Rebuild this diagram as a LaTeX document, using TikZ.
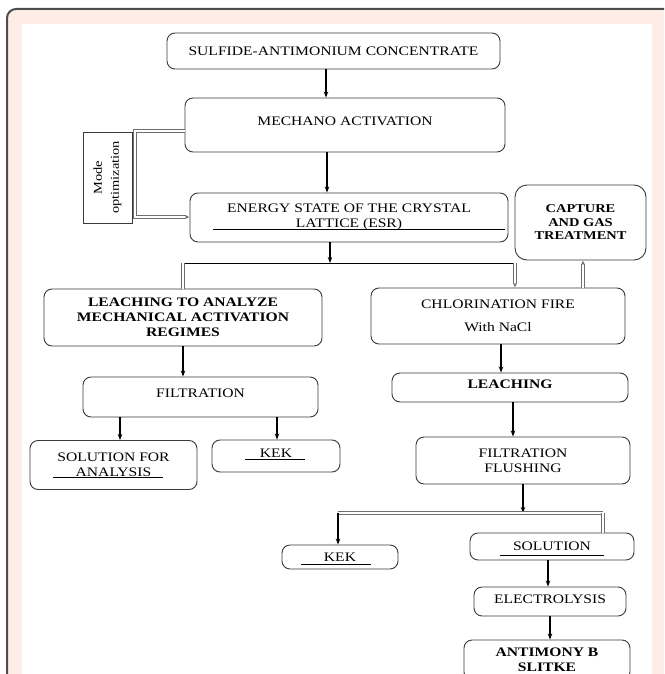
\documentclass[tikz,border=0pt]{standalone}
\usepackage{fontspec}
\setmainfont{Liberation Serif}[FakeStretch=1.2]
\usetikzlibrary{arrows.meta,calc}
\definecolor{marco}{HTML}{4D4D4D}
\definecolor{durazno}{HTML}{FDEDE6}
\definecolor{borde}{HTML}{3A3A3A}
\definecolor{doblec}{HTML}{6E6E6E}

\begin{document}
\begin{tikzpicture}[x=1pt,y=-1pt,
    caja/.style={draw=borde,line width=0.9pt,rounded corners=8pt,align=center,
      font=\fontsize{13}{15}\selectfont,inner sep=2pt},
    flecha/.style={draw=black,line width=1.1pt,-{Stealth[length=6pt,width=4.5pt]}},
    doble/.style={draw=doblec,line width=1pt,double=white,double distance=1.8pt},
    punta/.style={-{Latex[length=4pt,width=4pt]}},
    subr/.style={draw=black,line width=0.8pt}]
  \useasboundingbox (0,0) rectangle (664,674);
  \clip (0,0) rectangle (664,674);
  % marco de fondo
  \draw[marco,line width=2pt,rounded corners=9pt,fill=durazno] (7,9) rectangle (700,720);
  \fill[white] (22,24) rectangle (652,720);

  % cajas
  \node[caja,minimum width=333pt,minimum height=36pt] (sulf) at (333.5,51) {SULFIDE-ANTIMONIUM CONCENTRATE};
  \node[caja,minimum width=320pt,minimum height=54pt,text depth=8pt] (mech) at (345,125) {MECHANO ACTIVATION};
  \node[draw=borde,line width=0.9pt,rotate=90,minimum width=91pt,minimum height=49pt,
        align=center,inner sep=1pt,font=\fontsize{12}{17}\selectfont] (modo) at (107.5,177.5) {Mode\\optimization};
  \node[caja,minimum width=318pt,minimum height=49pt] (esr) at (349,217.5) {ENERGY STATE OF THE CRYSTAL\\LATTICE (ESR)};
  \node[caja,rounded corners=12pt,minimum width=131pt,minimum height=75pt,
        font=\fontsize{12}{13.5}\selectfont\bfseries] (capt) at (580.5,222.5) {CAPTURE\\AND GAS\\TREATMENT};
  \node[caja,minimum width=278pt,minimum height=57pt,font=\fontsize{13}{15}\selectfont\bfseries] (leacha) at (183,317.5)
    {LEACHING TO ANALYZE\\MECHANICAL ACTIVATION\\REGIMES};
  \node[caja,minimum width=254pt,minimum height=56pt] (chlor) at (498,316) {CHLORINATION FIRE\\[8pt]With NaCl};
  \node[caja,minimum width=235pt,minimum height=40pt,text depth=8pt] (filt1) at (200.5,397) {FILTRATION};
  \node[caja,minimum width=236pt,minimum height=29pt,text depth=7pt,font=\fontsize{13}{15}\selectfont\bfseries] (leach) at (510,387.5) {LEACHING};
  \node[caja,minimum width=167pt,minimum height=49pt] (solan) at (113.5,465) {SOLUTION FOR\\ANALYSIS};
  \node[caja,minimum width=128pt,minimum height=32pt,text depth=6pt] (kek1) at (276,456) {KEK};
  \node[caja,minimum width=214pt,minimum height=47pt] (flush) at (523,460.5) {FILTRATION\\FLUSHING};
  \node[caja,minimum width=116pt,minimum height=24pt] (kek2) at (340,557) {KEK};
  \node[caja,minimum width=164pt,minimum height=27pt] (sol) at (552,546.5) {SOLUTION};
  \node[caja,minimum width=152pt,minimum height=29pt,text depth=4pt] (elec) at (550,601.5) {ELECTROLYSIS};
  \node[caja,minimum width=166pt,minimum height=40pt,font=\fontsize{13}{14.5}\selectfont\bfseries] (anti) at (547,660) {ANTIMONY B\\SLITKE};

  % subrayados
  \draw[subr] (213,229) -- (505,229);
  \draw[subr] (53,477) -- (163,477);
  \draw[subr] (245,459) -- (305,459);
  \draw[subr] (301,564) -- (371,564);
  \draw[subr] (500,555) -- (604,555);

  % conexiones
  \draw[flecha] (326,0 |- sulf.south) -- (326,0 |- mech.north);
  \draw[flecha] (327,0 |- mech.south) -- (327,0 |- esr.north);
  \draw[doble,punta] (mech.west |- 0,131) -- (135,131) -- (135,217) -- (esr.west |- 0,217);

  \coordinate (r1) at (330,263);
  \coordinate (r1l) at (183,263);
  \coordinate (r1r) at (515,263);
  \draw[flecha] (330,0 |- esr.south) -- (r1);
  \draw[subr,line width=0.7pt] (r1l) -- (r1r);
  \draw[doble] (r1l) -- (r1l |- leacha.north);
  \draw[doble,punta] (r1r) -- (r1r |- chlor.north);
  \draw[doble,punta] (583,0 |- chlor.north) -- (583,0 |- capt.south);

  \draw[flecha] (183,0 |- leacha.south) -- (183,0 |- filt1.north);
  \draw[flecha] (501,0 |- chlor.south) -- (501,0 |- leach.north);
  \draw[flecha] (513,0 |- leach.south) -- (513,0 |- flush.north);
  \draw[flecha] (120,0 |- filt1.south) -- (120,0 |- solan.north);
  \draw[flecha] (277,0 |- filt1.south) -- (277,0 |- kek1.north);

  \coordinate (r2) at (523,513);
  \coordinate (r2l) at (338,513);
  \coordinate (r2r) at (603,513);
  \draw[flecha] (523,0 |- flush.south) -- (r2);
  \draw[doble] (r2l) -- (r2r);
  \draw[flecha] (r2l) -- (r2l |- kek2.north);
  \draw[doble] (r2r) -- (r2r |- sol.north);
  \draw[flecha] (548,0 |- sol.south) -- (548,0 |- elec.north);
  \draw[flecha] (550,0 |- elec.south) -- (550,0 |- anti.north);
\end{tikzpicture}
\end{document}
